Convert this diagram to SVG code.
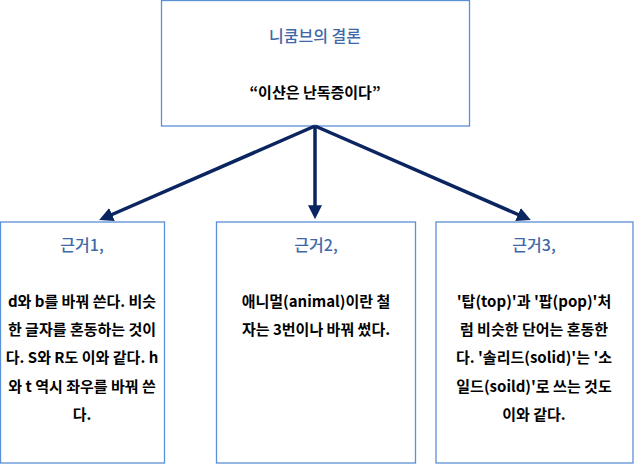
<svg xmlns="http://www.w3.org/2000/svg" width="634" height="464" viewBox="0 0 634 464">
<style>
.box{fill:#fff;stroke:#5b8fd6;stroke-width:1.3}
text{font-family:"Noto Sans CJK KR","Noto Sans",sans-serif;text-anchor:middle;font-size:15px}
.t{fill:#3e68a8;font-weight:500;font-size:16px}
.b{fill:#000;font-weight:700}
.c{stroke:#0b2561;stroke-width:3.5;fill:none;marker-end:url(#a)}
</style>
<defs><marker id="a" markerWidth="4" markerHeight="4" refX="2.5" refY="2" orient="auto"><path d="M0,0L4,2L0,4z" fill="#0b2561"/></marker></defs>
<rect width="634" height="464" fill="#fff"/>
<g id="top"><rect class="box" x="161.5" y="0.5" width="308" height="125.5"/>
<text class="t" x="315" y="42">니쿰브의 결론</text>
<text class="b" x="315" y="98">“이샨은 난독증이다”</text></g>
<g id="connectors">
<path class="c" d="M315,126L104,218"/>
<path class="c" d="M315,126L315,214"/>
<path class="c" d="M315,126L526,218"/>
</g>
<g id="n1"><rect class="box" x="0.5" y="222" width="164" height="241"/>
<text class="t" x="82" y="251">근거1,</text>
<text class="b" x="82" y="307">d와 b를 바꿔 쓴다. 비슷</text>
<text class="b" x="82" y="335">한 글자를 혼동하는 것이</text>
<text class="b" x="82" y="363">다. S와 R도 이와 같다. h</text>
<text class="b" x="82" y="392">와 t 역시 좌우를 바꿔 쓴</text>
<text class="b" x="82" y="420">다.</text></g>
<g id="n2"><rect class="box" x="216.5" y="222" width="199" height="241"/>
<text class="t" x="316" y="251">근거2,</text>
<text class="b" x="316" y="307">애니멀(animal)이란 철</text>
<text class="b" x="316" y="335">자는 3번이나 바꿔 썼다.</text></g>
<g id="n3"><rect class="box" x="436" y="222" width="197" height="241"/>
<text class="t" x="534" y="251">근거3,</text>
<text class="b" x="534" y="307">'탑(top)'과 '팝(pop)'처</text>
<text class="b" x="534" y="335">럼 비슷한 단어는 혼동한</text>
<text class="b" x="534" y="363">다. '솔리드(solid)'는 '소</text>
<text class="b" x="534" y="392">일드(soild)'로 쓰는 것도</text>
<text class="b" x="534" y="420">이와 같다.</text></g>
</svg>
